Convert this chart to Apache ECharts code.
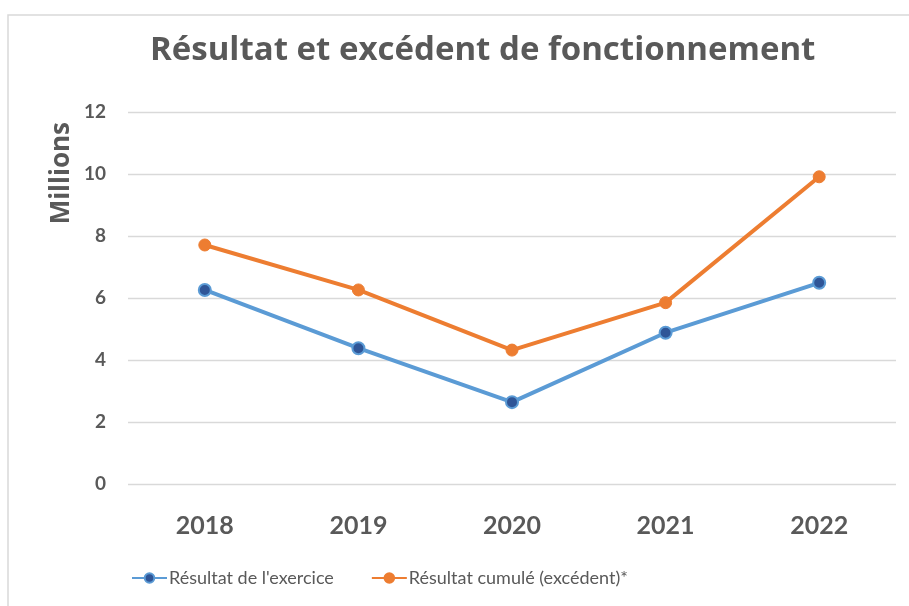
<!DOCTYPE html>
<html>
<head>
<meta charset="utf-8">
<script src="https://cdn.jsdelivr.net/npm/echarts@6/dist/echarts.min.js"></script>
<style>
  html, body { margin: 0; padding: 0; background: #fff; }
  #chart { width: 909px; height: 606px; }
</style>
</head>
<body>
<div id="chart"></div>
<script>
const years = ['2018', '2019', '2020', '2021', '2022'];
const resultatExercice = [6.26, 4.38, 2.64, 4.88, 6.49];
const resultatCumule = [7.71, 6.26, 4.32, 5.85, 9.91];
const yTicks = [0, 2, 4, 6, 8, 10, 12];

const grey = '#595959';

const chart = echarts.init(document.getElementById('chart'), null, { renderer: 'canvas' });

chart.setOption({
    backgroundColor: '#fff',
    animation: false,
    title: {
        text: 'Résultat et excédent de fonctionnement',
        left: 150,
        top: 34,
        padding: 0,
        textStyle: { fontFamily: 'Open Sans', fontSize: 33, fontWeight: 'bold', color: grey }
    },
    graphic: [{
        type: 'rect',
        shape: { x: 8, y: 15, width: 920, height: 620 },
        style: { fill: 'none', stroke: '#d9d9d9', lineWidth: 1.5 },
        silent: true
    }],
    legend: {
        bottom: 14,
        left: 126,
        itemGap: 37,
        itemWidth: 35,
        itemHeight: 12,
        textStyle: { fontFamily: 'Lato', fontSize: 18, color: grey, padding: [0, 0, 0, -3] },
        data: ["Résultat de l'exercice", 'Résultat cumulé (excédent)*']
    },
    grid: { left: 128, right: 13, top: 112, bottom: 122 },
    xAxis: {
        type: 'category',
        data: years,
        axisLine: { show: false },
        axisTick: { show: false },
        axisLabel: { fontFamily: 'Lato', fontSize: 25, fontWeight: 'bold', color: grey, margin: 29 }
    },
    yAxis: {
        type: 'value',
        min: yTicks[0],
        max: yTicks[yTicks.length - 1],
        interval: 2,
        name: 'Millions',
        nameLocation: 'end',
        nameRotate: 90,
        nameGap: 0,
        nameTextStyle: { fontFamily: 'Open Sans', fontSize: 26, fontWeight: 'bold', color: grey, align: 'right', verticalAlign: 'bottom', padding: [0, 10, 53, 0] },
        axisLine: { show: false },
        axisTick: { show: false },
        axisLabel: { fontFamily: 'Lato', fontSize: 19, fontWeight: 'bold', color: grey, margin: 22 },
        splitLine: { lineStyle: { color: '#d9d9d9', width: 1.3 } }
    },
    series: [
        {
            name: "Résultat de l'exercice",
            type: 'line',
            data: resultatExercice,
            symbol: 'circle',
            symbolSize: 12,
            lineStyle: { color: '#5B9BD5', width: 4 },
            itemStyle: { color: '#2F5597', borderColor: '#5B9BD5', borderWidth: 2 }
        },
        {
            name: 'Résultat cumulé (excédent)*',
            type: 'line',
            data: resultatCumule,
            symbol: 'circle',
            symbolSize: 12,
            lineStyle: { color: '#ED7D31', width: 4 },
            itemStyle: { color: '#ED7D31', borderColor: '#ED7D31', borderWidth: 1 }
        }
    ]
});
</script>
</body>
</html>
